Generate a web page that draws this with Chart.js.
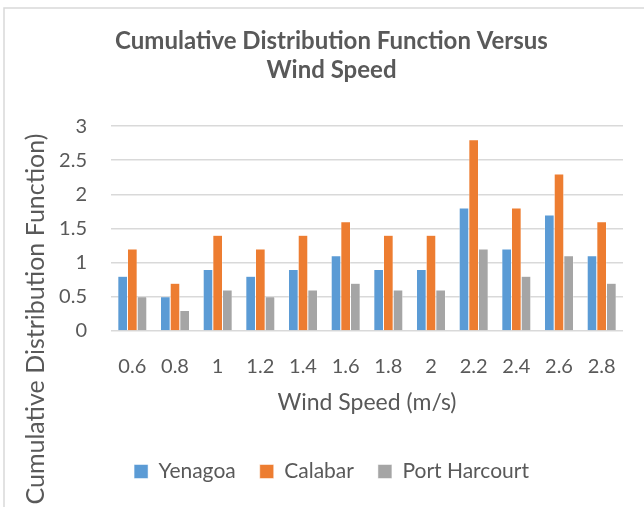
<!DOCTYPE html>
<html>
<head>
<meta charset="utf-8">
<script src="https://cdn.jsdelivr.net/npm/chart.js@4.4.0/dist/chart.umd.min.js"></script>
<style>
    html, body { margin: 0; padding: 0; background: #fff; }
    #wrap { width: 644px; height: 507px; }
</style>
</head>
<body>
<div id="wrap"><canvas id="cdf-chart" width="644" height="507"></canvas></div>
<script>
    // Données
    const windSpeeds = ['0.6', '0.8', '1', '1.2', '1.4', '1.6', '1.8', '2', '2.2', '2.4', '2.6', '2.8'];
    const yenagoa = [0.8, 0.5, 0.9, 0.8, 0.9, 1.1, 0.9, 0.9, 1.8, 1.2, 1.7, 1.1];
    const calabar = [1.2, 0.7, 1.4, 1.2, 1.4, 1.6, 1.4, 1.4, 2.8, 1.8, 2.3, 1.6];
    const portHarcourt = [0.5, 0.3, 0.6, 0.5, 0.6, 0.7, 0.6, 0.6, 1.2, 0.8, 1.1, 0.7];

    const textColor = '#595959';
    const fontFamily = 'Lato, "Open Sans", sans-serif';

    // Cadre + titre de l'axe Y (dessinés à la main)
    const framePlugin = {
        id: 'frame',
        afterDraw(chart) {
            const ctx = chart.ctx;
            ctx.save();
            ctx.strokeStyle = '#D9D9D9';
            ctx.lineWidth = 1.5;
            ctx.beginPath();
            ctx.moveTo(4, 507);
            ctx.lineTo(4, 8);
            ctx.lineTo(644, 8);
            ctx.stroke();

            ctx.translate(36, 319);
            ctx.rotate(-Math.PI / 2);
            ctx.fillStyle = textColor;
            ctx.font = '25px ' + fontFamily;
            ctx.textAlign = 'center';
            ctx.textBaseline = 'middle';
            ctx.fillText('Cumulative Distribution Function)', 0, 0);
            ctx.restore();
        }
    };

    function makeDataset(label, data, color) {
        return {
            label: label,
            data: data,
            backgroundColor: color,
            borderColor: '#ffffff',
            borderWidth: 0.5,
            categoryPercentage: 0.68,
            barPercentage: 1.0
        };
    }

    const ctx = document.getElementById('cdf-chart').getContext('2d');
    new Chart(ctx, {
        type: 'bar',
        data: {
            labels: windSpeeds,
            datasets: [
                makeDataset('Yenagoa', yenagoa, '#5B9BD5'),
                makeDataset('Calabar', calabar, '#ED7D31'),
                makeDataset('Port Harcourt', portHarcourt, '#A5A5A5')
            ]
        },
        options: {
            responsive: false,
            animation: false,
            layout: {
                padding: { left: 40, right: 21, top: 10, bottom: 15 }
            },
            plugins: {
                title: {
                    display: true,
                    text: ['Cumulative Distribution Function Versus', 'Wind Speed'],
                    color: textColor,
                    font: { family: fontFamily, size: 24, weight: 'bold', lineHeight: 1.21 },
                    padding: { top: 17, bottom: 41 }
                },
                legend: {
                    position: 'bottom',
                    labels: {
                        color: textColor,
                        font: { family: fontFamily, size: 21 },
                        boxWidth: 14,
                        boxHeight: 14,
                        padding: 24
                    }
                },
                tooltip: { enabled: false }
            },
            scales: {
                x: {
                    grid: { display: false },
                    border: { display: false },
                    ticks: {
                        color: textColor,
                        font: { family: fontFamily, size: 20 },
                        padding: 16,
                        maxRotation: 0
                    },
                    title: {
                        display: true,
                        text: 'Wind Speed (m/s)',
                        color: textColor,
                        font: { family: fontFamily, size: 23 },
                        padding: { top: 4, bottom: 21 }
                    },
                    afterFit(scale) { scale.height = 106; }
                },
                y: {
                    min: 0,
                    max: 3,
                    grid: { color: '#D9D9D9', lineWidth: 1.5, drawTicks: false },
                    border: { display: false },
                    ticks: {
                        stepSize: 0.5,
                        color: textColor,
                        font: { family: fontFamily, size: 20 },
                        padding: 24,
                        callback: value => String(value)
                    },
                    afterFit(scale) { scale.width = 71; }
                }
            }
        },
        plugins: [framePlugin]
    });
</script>
</body>
</html>
